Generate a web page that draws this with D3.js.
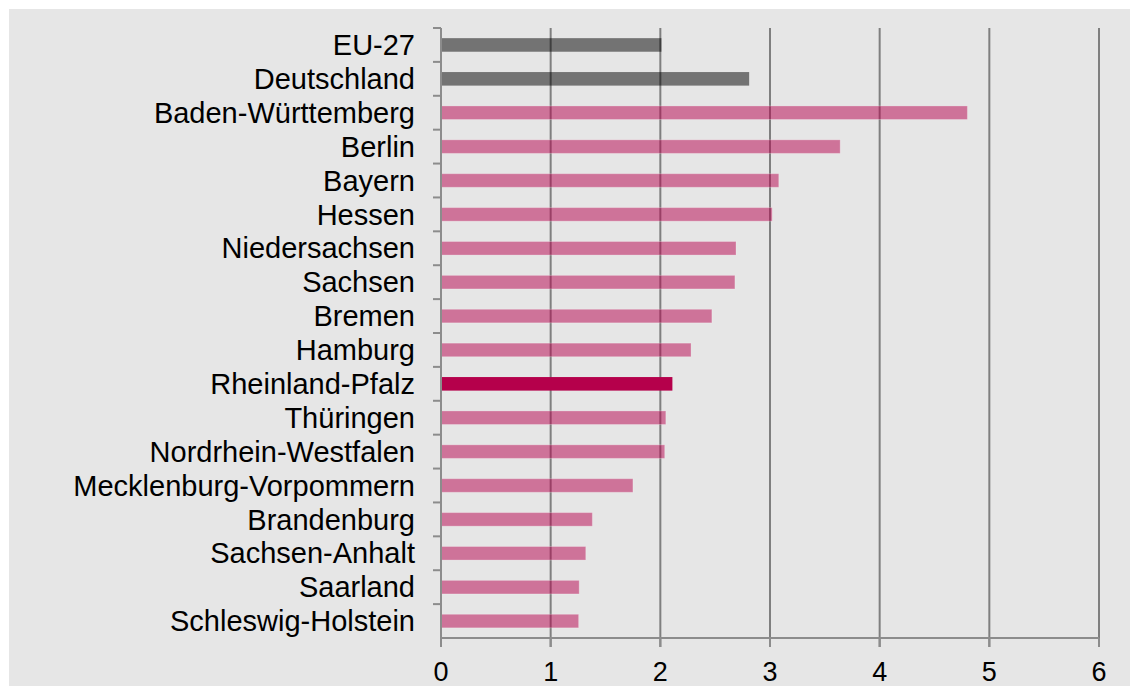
<!DOCTYPE html>
<html>
<head>
<meta charset="utf-8">
<script src="https://cdn.jsdelivr.net/npm/d3@7"></script>
<style>
  body { margin: 0; background: #fff; }
  text { font-family: "Liberation Sans", Arial, sans-serif; fill: #000; }
</style>
</head>
<body>
<div id="chart_div"></div>
<script>
// regions, top to bottom
var regions = ['EU-27', 'Deutschland', 'Baden-Württemberg', 'Berlin', 'Bayern', 'Hessen',
  'Niedersachsen', 'Sachsen', 'Bremen', 'Hamburg', 'Rheinland-Pfalz', 'Thüringen',
  'Nordrhein-Westfalen', 'Mecklenburg-Vorpommern', 'Brandenburg', 'Sachsen-Anhalt',
  'Saarland', 'Schleswig-Holstein'];
var values = [2.01, 2.81, 4.80, 3.64, 3.08, 3.02, 2.69, 2.68, 2.47, 2.28, 2.11, 2.05,
  2.04, 1.75, 1.38, 1.32, 1.26, 1.255];
// bar group: ref = comparison, hl = highlighted land, land = other
var groups = ['ref', 'ref', 'land', 'land', 'land', 'land', 'land', 'land', 'land', 'land',
  'hl', 'land', 'land', 'land', 'land', 'land', 'land', 'land'];
var xTicks = [0, 1, 2, 3, 4, 5, 6];

var svg_width = 1130,
  svg_height = 686,
  plot_left = 441, plot_right = 1099, plot_top = 28, plot_bottom = 638;

var svg = d3.select('#chart_div')
  .append('svg')
  .attr('width', svg_width)
  .attr('height', svg_height);

// grey panel
svg.append('rect')
  .attr('x', 9).attr('y', 9)
  .attr('width', svg_width - 9).attr('height', svg_height - 9)
  .attr('fill', '#e6e6e6');

var x = d3.scaleLinear().domain([0, 6]).range([plot_left, plot_right]);
var y = d3.scaleBand().domain(regions).range([plot_top, plot_bottom]).paddingInner(0.6).paddingOuter(0.3);
var band = d3.scaleBand().domain(regions).range([plot_top, plot_bottom]);

// vertical grid lines (with the tick below the axis)
svg.append('g')
  .selectAll('line')
  .data(xTicks.slice(1))
  .enter().append('line')
  .attr('x1', function (d) { return x(d); })
  .attr('x2', function (d) { return x(d); })
  .attr('y1', plot_top)
  .attr('y2', plot_bottom + 9)
  .attr('stroke', '#7f7f7f')
  .attr('stroke-width', 2);

var fills = { ref: 'rgba(0,0,0,0.5)', land: 'rgba(181,0,75,0.5)', hl: '#b5004b' };

svg.append('g')
  .selectAll('rect')
  .data(regions)
  .enter().append('rect')
  .attr('x', x(0))
  .attr('y', function (d) { return y(d); })
  .attr('width', function (d, i) { return x(values[i]) - x(0); })
  .attr('height', y.bandwidth())
  .attr('fill', function (d, i) { return fills[groups[i]]; })
  .attr('stroke', function (d, i) { return groups[i] == 'land' ? 'rgba(255,255,255,0.25)' : 'none'; })
  .attr('stroke-width', 1);

// x axis
var xAxis = svg.append('g').attr('transform', 'translate(0,' + plot_bottom + ')');
xAxis.append('line')
  .attr('x1', plot_left).attr('x2', plot_right)
  .attr('stroke', '#8c8c8c').attr('stroke-width', 2);
xAxis.selectAll('line.tick')
  .data(xTicks)
  .enter().append('line')
  .classed('tick', true)
  .attr('x1', function (d) { return x(d); })
  .attr('x2', function (d) { return x(d); })
  .attr('y1', 0).attr('y2', 9)
  .attr('stroke', '#8c8c8c').attr('stroke-width', 2);
xAxis.selectAll('text')
  .data(xTicks)
  .enter().append('text')
  .attr('x', function (d) { return x(d); })
  .attr('y', 43)
  .attr('text-anchor', 'middle')
  .attr('style', 'font-size: 27px')
  .text(function (d) { return d; });

// y axis
var yAxis = svg.append('g');
yAxis.append('line')
  .attr('x1', plot_left).attr('x2', plot_left)
  .attr('y1', plot_top).attr('y2', plot_bottom)
  .attr('stroke', '#8c8c8c').attr('stroke-width', 2);
yAxis.selectAll('line.tick')
  .data(regions)
  .enter().append('line')
  .classed('tick', true)
  .attr('x1', plot_left - 8).attr('x2', plot_left)
  .attr('y1', function (d) { return band(d); })
  .attr('y2', function (d) { return band(d); })
  .attr('stroke', '#8c8c8c').attr('stroke-width', 2);
yAxis.selectAll('text')
  .data(regions)
  .enter().append('text')
  .attr('x', 415)
  .attr('y', function (d) { return band(d) + band.bandwidth() / 2; })
  .attr('dy', '0.35em')
  .attr('text-anchor', 'end')
  .attr('style', 'font-size: 29px')
  .text(function (d) { return d; });
</script>
</body>
</html>
